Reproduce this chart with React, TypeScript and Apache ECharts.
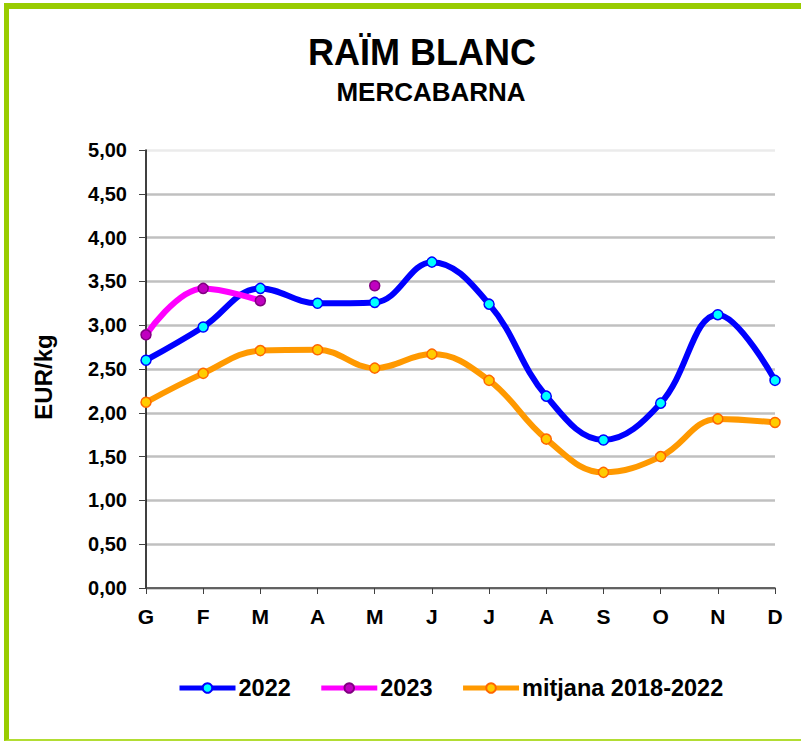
import React, { useEffect, useRef } from "react";
import * as echarts from "echarts";

const months = ["G", "F", "M", "A", "M", "J", "J", "A", "S", "O", "N", "D"];
const s2022 = [2.6, 2.98, 3.42, 3.25, 3.26, 3.72, 3.24, 2.19, 1.69, 2.11, 3.12, 2.37];
const s2023 = [2.89, 3.42, 3.28, null, 3.45, null, null, null, null, null, null, null];
const sMitjana = [2.12, 2.45, 2.71, 2.72, 2.51, 2.67, 2.37, 1.7, 1.32, 1.5, 1.93, 1.89];
const yTicks = { min: 0, max: 5, interval: 0.5 };

const FONT = '"Liberation Sans", Arial, sans-serif';

export default function App() {
  const ref = useRef<HTMLDivElement>(null);
  useEffect(() => {
    if (!ref.current) return;
    const chart = echarts.init(ref.current, null, { renderer: "svg" });
    const gridColors = Array(10).fill("#c0c0c0").concat(["#ebebeb"]);
    chart.setOption({
      animation: false,
      backgroundColor: "transparent",
      textStyle: { fontFamily: FONT },
      graphic: [
        {
          type: "text",
          x: 422,
          y: 52,
          style: {
            text: "RAÏM BLANC",
            font: `bold 36px ${FONT}`,
            fill: "#000",
            textAlign: "center",
            textVerticalAlign: "middle",
          },
        },
        {
          type: "text",
          x: 431,
          y: 92,
          style: {
            text: "MERCABARNA",
            font: `bold 26px ${FONT}`,
            fill: "#000",
            textAlign: "center",
            textVerticalAlign: "middle",
          },
        },
        {
          type: "text",
          x: 43,
          y: 377,
          rotation: Math.PI / 2,
          style: {
            text: "EUR/kg",
            font: `bold 24px ${FONT}`,
            fill: "#000",
            textAlign: "center",
            textVerticalAlign: "middle",
          },
        },
      ],
      grid: { left: 146, right: 26, top: 150, bottom: 153, containLabel: false },
      legend: {
        left: 177,
        top: 676,
        padding: 0,
        itemWidth: 56,
        itemHeight: 12,
        itemGap: 28,
        lineStyle: { width: 5 },
        textStyle: { fontFamily: FONT, fontWeight: "bold", fontSize: 23.5, color: "#000", padding: [0, 0, 0, -2] },
        data: ["2022", "2023", "mitjana 2018-2022"],
      },
      xAxis: {
        type: "category",
        data: months,
        boundaryGap: false,
        axisLine: { lineStyle: { color: "#404040", width: 1.5 } },
        axisTick: { show: true, length: 6, alignWithLabel: true, lineStyle: { color: "#404040" } },
        axisLabel: { color: "#000", fontWeight: "bold", fontSize: 21, fontFamily: FONT, margin: 18 },
        splitLine: { show: false },
      },
      yAxis: {
        type: "value",
        min: yTicks.min,
        max: yTicks.max,
        interval: yTicks.interval,
        axisLine: { show: true, lineStyle: { color: "#000", width: 1.5 } },
        axisTick: { show: true, length: 7, lineStyle: { color: "#404040" } },
        axisLabel: {
          color: "#000",
          fontWeight: "bold",
          fontSize: 20,
          fontFamily: FONT,
          margin: 19,
          formatter: (v: number) => v.toFixed(2).replace(".", ","),
        },
        splitLine: { show: true, lineStyle: { color: gridColors, width: 2.5 } },
      },
      series: [
        {
          name: "2022",
          type: "line",
          data: s2022,
          smooth: 0.4,
          symbol: "circle",
          symbolSize: 10,
          lineStyle: { color: "#0000ff", width: 6 },
          itemStyle: { color: "#00ffff", borderColor: "#0000ff", borderWidth: 1.5 },
          z: 3,
        },
        {
          name: "2023",
          type: "line",
          data: s2023,
          smooth: 0.4,
          connectNulls: false,
          symbol: "circle",
          symbolSize: 10,
          showAllSymbol: true,
          lineStyle: { color: "#ff00ff", width: 6 },
          itemStyle: { color: "#c000c0", borderColor: "#800080", borderWidth: 1.5 },
          z: 4,
        },
        {
          name: "mitjana 2018-2022",
          type: "line",
          data: sMitjana,
          smooth: 0.4,
          symbol: "circle",
          symbolSize: 10,
          lineStyle: { color: "#ff9900", width: 6 },
          itemStyle: { color: "#ffcc00", borderColor: "#ff6600", borderWidth: 1.5 },
          z: 2,
        },
      ],
    });
    return () => chart.dispose();
  }, []);

  return (
    <div style={{ position: "fixed", left: 0, top: 0, width: 801, height: 741, background: "#fff", overflow: "hidden" }}>
      <div
        style={{
          position: "absolute",
          left: 4,
          top: 3,
          width: 820,
          height: 730,
          borderLeft: "5px solid #99cc00",
          borderTop: "6px solid #99cc00",
          borderBottom: "2px solid #b2dd33",
        }}
      />
      <div ref={ref} style={{ position: "absolute", left: 0, top: 0, width: 801, height: 741 }} />
    </div>
  );
}
